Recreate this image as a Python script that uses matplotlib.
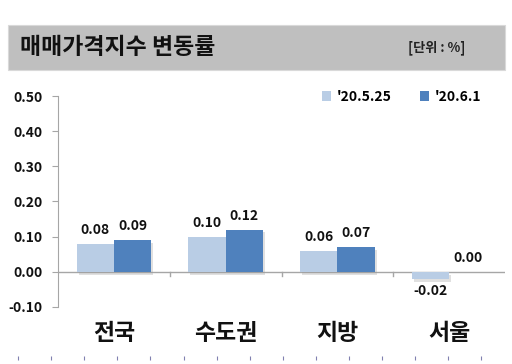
import matplotlib
matplotlib.use("Agg")
import matplotlib.pyplot as plt
import matplotlib.patheffects as pe
from matplotlib.patches import Rectangle, Patch
from matplotlib.lines import Line2D
import numpy as np

plt.rcParams['font.family'] = ['Noto Sans CJK KR', 'DejaVu Sans']

categories = ['전국', '수도권', '지방', '서울']
series_names = ["'20.5.25", "'20.6.1"]
values_prev = [0.08, 0.10, 0.06, -0.02]
values_curr = [0.09, 0.12, 0.07, 0.00]
yticks = [-0.10, 0.00, 0.10, 0.20, 0.30, 0.40, 0.50]
title = '매매가격지수 변동률'
unit = '[단위 : %]'
colors = ['#B9CDE5', '#4F81BD']

fig = plt.figure(figsize=(5.12, 3.64), dpi=100)
fig.patch.set_facecolor('white')

# title bar
fig.patches.append(Rectangle((8/512, 1-70/364), 497/512, 45/364, transform=fig.transFigure,
                             facecolor='#BFBFBF', edgecolor='#D9D9D9', lw=0.8, zorder=0))
fig.text(20/512, 1-48/364, title, fontsize=16.5, fontweight='bold', va='center', ha='left', color='#111111')
fig.text(465/512, 1-48/364, unit, fontsize=9.5, fontweight='bold', va='center', ha='right', color='#222222')

ax = fig.add_axes([58/512, 1-307/364, 447/512, 211/364])
x = np.arange(len(categories))
w = 0.333
shadow = [pe.SimplePatchShadow(offset=(1.5, -2), shadow_rgbFace='#999999', alpha=0.3), pe.Normal()]
b1 = ax.bar(x - w/2, values_prev, w, color=colors[0], zorder=3, path_effects=shadow)
b2 = ax.bar(x + w/2, values_curr, w, color=colors[1], zorder=3, path_effects=shadow)

for bars, vals in ((b1, values_prev), (b2, values_curr)):
    for r, v in zip(bars, vals):
        cx = r.get_x() + r.get_width()/2
        if v < 0:
            ax.annotate(f'{v:.2f}', (cx, v), xytext=(0, -4), textcoords='offset points',
                        ha='center', va='top', fontsize=10, fontweight='bold', color='#111111')
        else:
            ax.annotate(f'{v:.2f}', (cx, v), xytext=(0, 5), textcoords='offset points',
                        ha='center', va='bottom', fontsize=10, fontweight='bold', color='#111111')

ax.set_xlim(-0.5, len(categories) - 0.5)
ax.set_ylim(-0.10, 0.50)
ax.set_yticks(yticks)
ax.set_yticklabels([f'{t:.2f}' for t in yticks], fontsize=10, fontweight='bold', color='#111111')
ax.tick_params(axis='y', length=4, color='#A6A6A6', pad=7)

ax.set_xticks(x)
ax.set_xticklabels(categories, fontsize=16.5, fontweight='bold', color='#111111')
ax.tick_params(axis='x', length=0, pad=11)

for s in ['top', 'right', 'bottom']:
    ax.spines[s].set_visible(False)
ax.spines['left'].set_color('#A6A6A6')
ax.axhline(0, color='#A6A6A6', lw=1, zorder=2)
# ticks at category boundaries on zero line
for b in np.arange(0.5, len(categories) - 0.5, 1):
    ax.plot([b, b], [0, -0.013], color='#A6A6A6', lw=1, zorder=2, clip_on=False)

handles = [Patch(facecolor=colors[0]), Patch(facecolor=colors[1])]
ax.legend(handles, series_names, loc='upper right', ncol=2, frameon=False,
          bbox_to_anchor=(0.975, 1.09), handlelength=0.7, handleheight=0.7, handletextpad=0.4,
          columnspacing=2.0, prop={'size': 10, 'weight': 'bold'})

# bottom decorative tick row
fig.add_artist(Line2D(np.arange(18, 490, 33.1)/512, np.full(15, 1-358/364), transform=fig.transFigure,
                      ls='none', marker='|', markersize=3, color='#8080B0', mew=0.8))

fig.savefig('out.png', dpi=100)
